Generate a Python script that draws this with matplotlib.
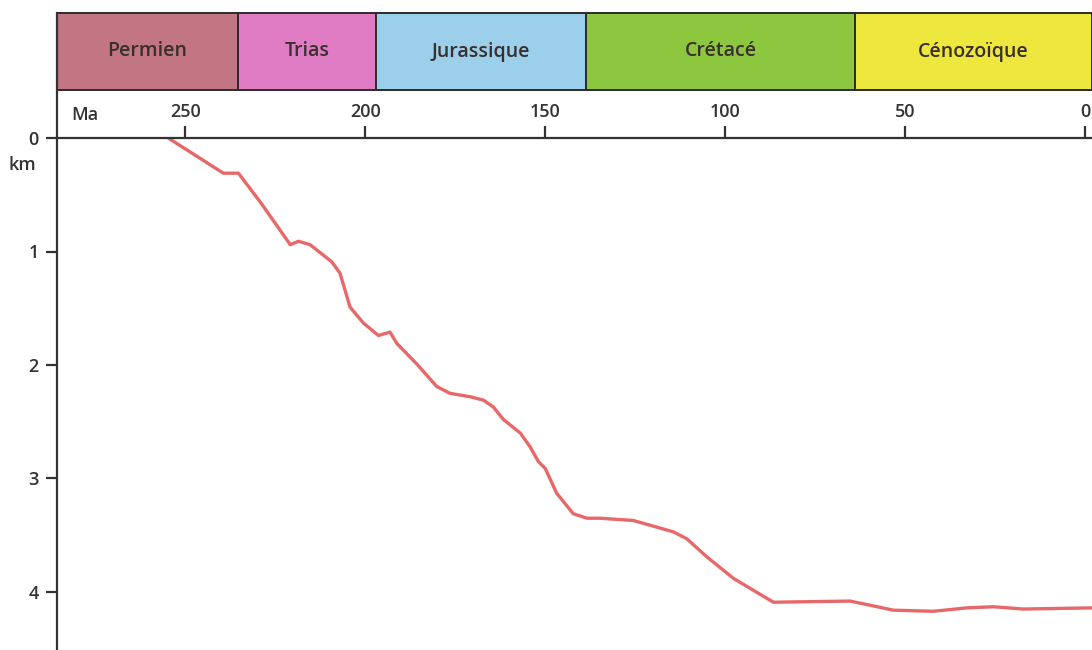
import numpy as np
import matplotlib
matplotlib.use("Agg")
import matplotlib.pyplot as plt

plt.rcParams['font.family'] = ['Open Sans', 'DejaVu Sans']

# periodes geologiques (debut, fin en Ma)
periods = ["Permien", "Trias", "Jurassique", "Crétacé", "Cénozoïque"]
period_start = [285.6, 235.4, 197.0, 138.7, 63.9]
period_end = [235.4, 197.0, 138.7, 63.9, -1.9]
period_colors = ["#c27582", "#df7cc4", "#9ccfe9", "#8dc63f", "#eee83e"]

# courbe de subsidence (age en Ma, profondeur en km)
age = [254.7, 239.4, 235.2, 229.0, 220.8, 218.5, 215.3, 209.3, 207.0, 204.2,
       200.5, 196.3, 193.1, 191.2, 185.7, 180.1, 176.4, 170.8, 167.1, 164.4,
       161.6, 156.9, 154.2, 151.9, 150.0, 146.8, 142.2, 138.4, 134.7, 125.5,
       114.4, 110.7, 105.1, 97.7, 86.6, 65.3, 60.7, 53.3, 42.2, 32.9,
       25.5, 17.3, -1.9]
depth = [0.0, 0.31, 0.31, 0.57, 0.94, 0.91, 0.94, 1.09, 1.19, 1.49,
         1.63, 1.74, 1.71, 1.81, 1.99, 2.19, 2.25, 2.28, 2.31, 2.37,
         2.48, 2.60, 2.72, 2.85, 2.91, 3.13, 3.31, 3.35, 3.35, 3.37,
         3.47, 3.53, 3.69, 3.88, 4.09, 4.08, 4.11, 4.16, 4.17, 4.14,
         4.13, 4.15, 4.14]

ma_ticks = [250, 200, 150, 100, 50, 0]
km_ticks = [0, 1, 2, 3, 4]

W, H = 1092, 650
fig = plt.figure(figsize=(W / 100, H / 100), dpi=100)

x0 = 57
y_axis = 138
xlim = (285.6, -1.9)

ax = fig.add_axes([x0 / W, 0, (W - x0) / W, (H - y_axis) / H])
band = fig.add_axes([x0 / W, (H - y_axis) / H, (W - x0) / W, (y_axis - 13) / H])

txt = "#333333"
fw = "semibold"

# bandeau des periodes
band.set_xlim(*xlim)
band.set_ylim(0, 1)
bar_bottom = (y_axis - 90) / (y_axis - 13)
for name, s, e, c in zip(periods, period_start, period_end, period_colors):
    band.bar((s + e) / 2, 1 - bar_bottom, width=s - e, bottom=bar_bottom,
             color=c, edgecolor="#2b2b2b", linewidth=1.4, clip_on=False)
    band.text((s + e) / 2, bar_bottom + (1 - bar_bottom) / 2, name,
              ha="center", va="center", fontsize=14, color="#3a2f2f",
              fontweight=fw)
for sp in ["top", "right", "bottom"]:
    band.spines[sp].set_visible(False)
band.spines["left"].set_linewidth(1.6)
band.spines["left"].set_color(txt)
band.set_xticks([])
band.set_yticks([])
band.patch.set_alpha(0)

# courbe
ax.plot(age, depth, color="#e8686a", lw=2.4, solid_joinstyle="round",
        solid_capstyle="round")
ax.set_xlim(*xlim)
ax.set_ylim((H - y_axis) / 113.5, 0)

ax.xaxis.tick_top()
ax.set_xticks(ma_ticks)
ax.set_xticklabels([str(t) for t in ma_ticks], fontweight=fw)
ax.tick_params(axis="x", direction="out", length=9, width=1.6, pad=3,
               labelsize=13, colors=txt)
ax.set_yticks(km_ticks)
ax.set_yticklabels([str(t) for t in km_ticks], fontweight=fw)
ax.tick_params(axis="y", direction="out", length=8, width=1.6, pad=5,
               labelsize=13, colors=txt)
for sp in ["right", "bottom"]:
    ax.spines[sp].set_visible(False)
for sp in ["top", "left"]:
    ax.spines[sp].set_linewidth(1.6)
    ax.spines[sp].set_color(txt)

ax.text((85 - x0) / (W - x0), -0.2, "Ma", transform=ax.get_yaxis_transform(),
        ha="center", va="center", fontsize=13, color=txt, clip_on=False,
        fontweight=fw)
ax.text((22 - x0) / (W - x0), 0.24, "km", transform=ax.get_yaxis_transform(),
        ha="center", va="center", fontsize=13, color=txt, clip_on=False,
        fontweight=fw)

fig.savefig("out.png", dpi=100)
